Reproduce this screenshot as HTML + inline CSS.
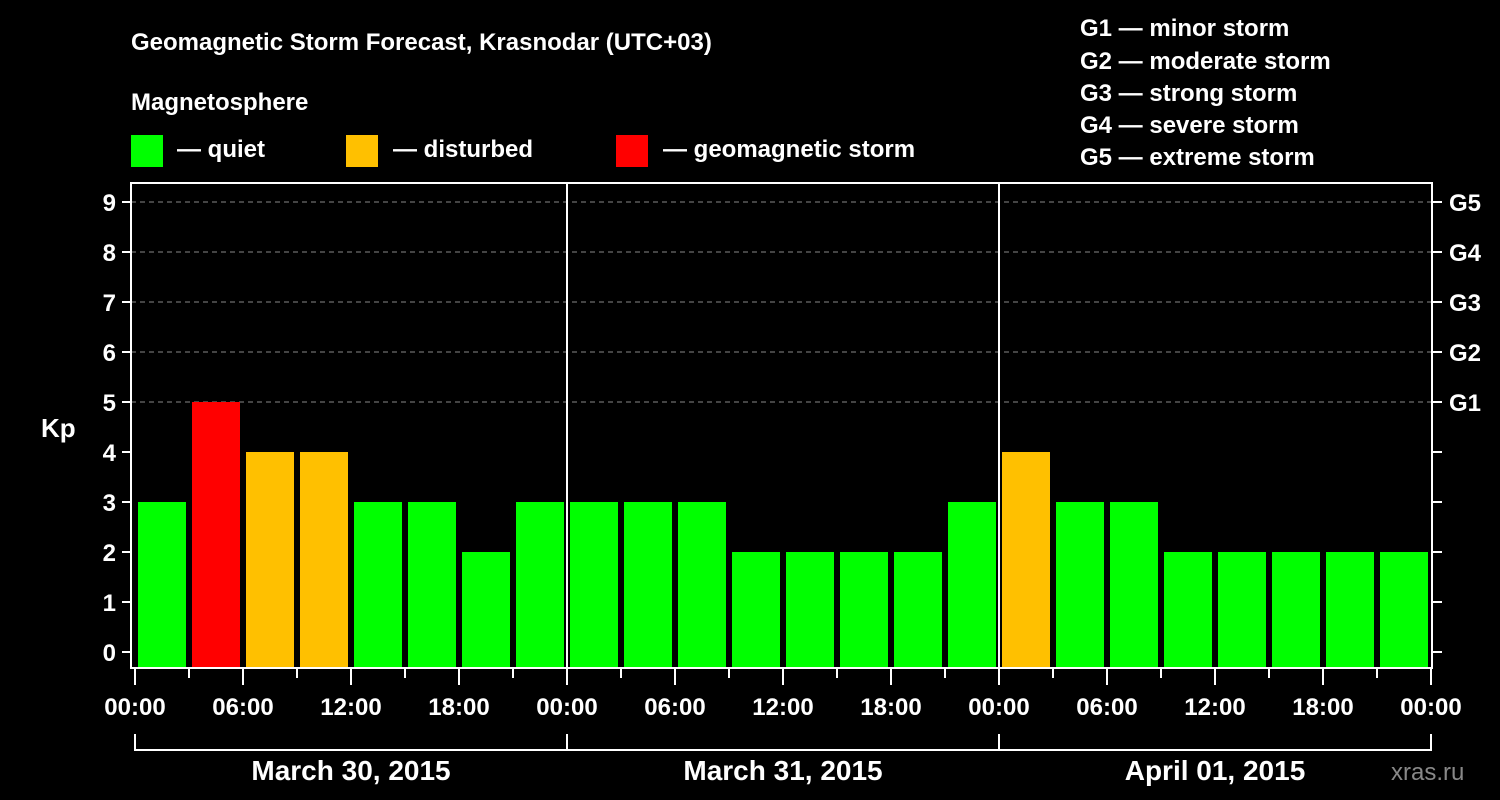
<!DOCTYPE html>
<html><head><meta charset="utf-8"><style>
body{margin:0;background:#000;}
svg{display:block;font-family:"Liberation Sans",Arial,sans-serif;font-weight:bold;}
</style></head><body>
<svg id="c" width="1500" height="800" viewBox="0 0 1500 800">
<rect width="1500" height="800" fill="#000"/>
<text x="131" y="50" fill="#fff" font-size="24">Geomagnetic Storm Forecast, Krasnodar (UTC+03)</text>
<text x="131" y="110" fill="#fff" font-size="24">Magnetosphere</text>
<g><rect x="131" y="135" width="32" height="32" fill="#00ff00"/><text x="177" y="157" fill="#fff" font-size="24">— quiet</text></g>
<g><rect x="346" y="135" width="32" height="32" fill="#ffc000"/><text x="393" y="157" fill="#fff" font-size="24">— disturbed</text></g>
<g><rect x="616" y="135" width="32" height="32" fill="#ff0000"/><text x="663" y="157" fill="#fff" font-size="24">— geomagnetic storm</text></g>
<g fill="#fff" font-size="24">
<text x="1080" y="36">G1 — minor storm</text>
<text x="1080" y="69">G2 — moderate storm</text>
<text x="1080" y="101">G3 — strong storm</text>
<text x="1080" y="133">G4 — severe storm</text>
<text x="1080" y="165">G5 — extreme storm</text>
</g>
<text x="41" y="437" fill="#fff" font-size="26">Kp</text>
<text x="1391" y="780" fill="#888" font-size="24" font-weight="normal">xras.ru</text>
<g id="grid"></g><g id="bars"></g><g id="axes"></g>
</svg>
<script>
const days=["March 30, 2015","March 31, 2015","April 01, 2015"];
const kp=[3,5,4,4,3,3,2,3, 3,3,3,2,2,2,2,3, 4,3,3,2,2,2,2,2];
const yTicks=[0,1,2,3,4,5,6,7,8,9];
const gLabels=["G1","G2","G3","G4","G5"];
const timeLabels=["00:00","06:00","12:00","18:00"];
const NS="http://www.w3.org/2000/svg";
const x0=135,slot=54,yBase=652,unit=50,plotTop=183,plotBot=668,xR=1432;
const X=i=>x0+i*slot, Y=v=>yBase-v*unit;
function mk(t,a,p,txt){const e=document.createElementNS(NS,t);for(const k in a)e.setAttribute(k,a[k]);if(txt!==undefined)e.textContent=txt;p.appendChild(e);return e;}
const grid=document.getElementById('grid'),bars=document.getElementById('bars'),axes=document.getElementById('axes');
yTicks.forEach(v=>{
 if(v>=5){const l=mk('line',{x1:131,x2:xR,y1:Y(v),y2:Y(v),stroke:'#888','stroke-dasharray':'5,4','stroke-width':1},grid);
 
 }
 const t=mk('line',{x1:122,x2:131,y1:Y(v),y2:Y(v),stroke:'#fff','stroke-width':2},axes);
 
 
 const r=mk('line',{x1:xR,x2:1442,y1:Y(v),y2:Y(v),stroke:'#fff','stroke-width':2},axes);
 
 
 const lb=mk('text',{x:116,y:Y(v)+9,fill:'#fff','font-size':24,'text-anchor':'end'},axes,String(v));
 
 
});
gLabels.forEach((g,i)=>{
 const t=mk('text',{x:1449,y:Y(5+i)+9,fill:'#fff','font-size':24},axes,g);
 
 
});
kp.forEach((v,i)=>{
 const c=v>=5?'#ff0000':v>=4?'#ffc000':'#00ff00';
 const r=mk('rect',{x:X(i)+3,y:Y(v),width:48,height:plotBot-Y(v),fill:c},bars);
 
 
});
const f=mk('rect',{x:131,y:plotTop,width:xR-131,height:plotBot-plotTop,fill:'none',stroke:'#fff','stroke-width':2},axes);


for(let d=1;d<days.length;d++){
 const l=mk('line',{x1:X(d*8),x2:X(d*8),y1:plotTop,y2:plotBot,stroke:'#fff','stroke-width':2},axes);
 
 
}
for(let i=0;i<=kp.length;i++){
 const long=i%2===0;
 const t=mk('line',{x1:X(i),x2:X(i),y1:plotBot,y2:long?685:678,stroke:'#fff','stroke-width':2},axes);
 
 
 if(long){const lb=mk('text',{x:X(i),y:715,fill:'#fff','font-size':24,'text-anchor':'middle'},axes,timeLabels[(i/2)%4]);
 
 }
}
const br=mk('path',{d:`M${X(0)} 734V750H${X(24)}V734`,fill:'none',stroke:'#fff','stroke-width':2},axes);


days.forEach((d,k)=>{
 if(k>0){const l=mk('line',{x1:X(k*8),x2:X(k*8),y1:734,y2:750,stroke:'#fff','stroke-width':2},axes);
 
 }
 const t=mk('text',{x:X(k*8+4),y:780,fill:'#fff','font-size':28,'text-anchor':'middle'},axes,d);
 
 
});
</script>
</body></html>
